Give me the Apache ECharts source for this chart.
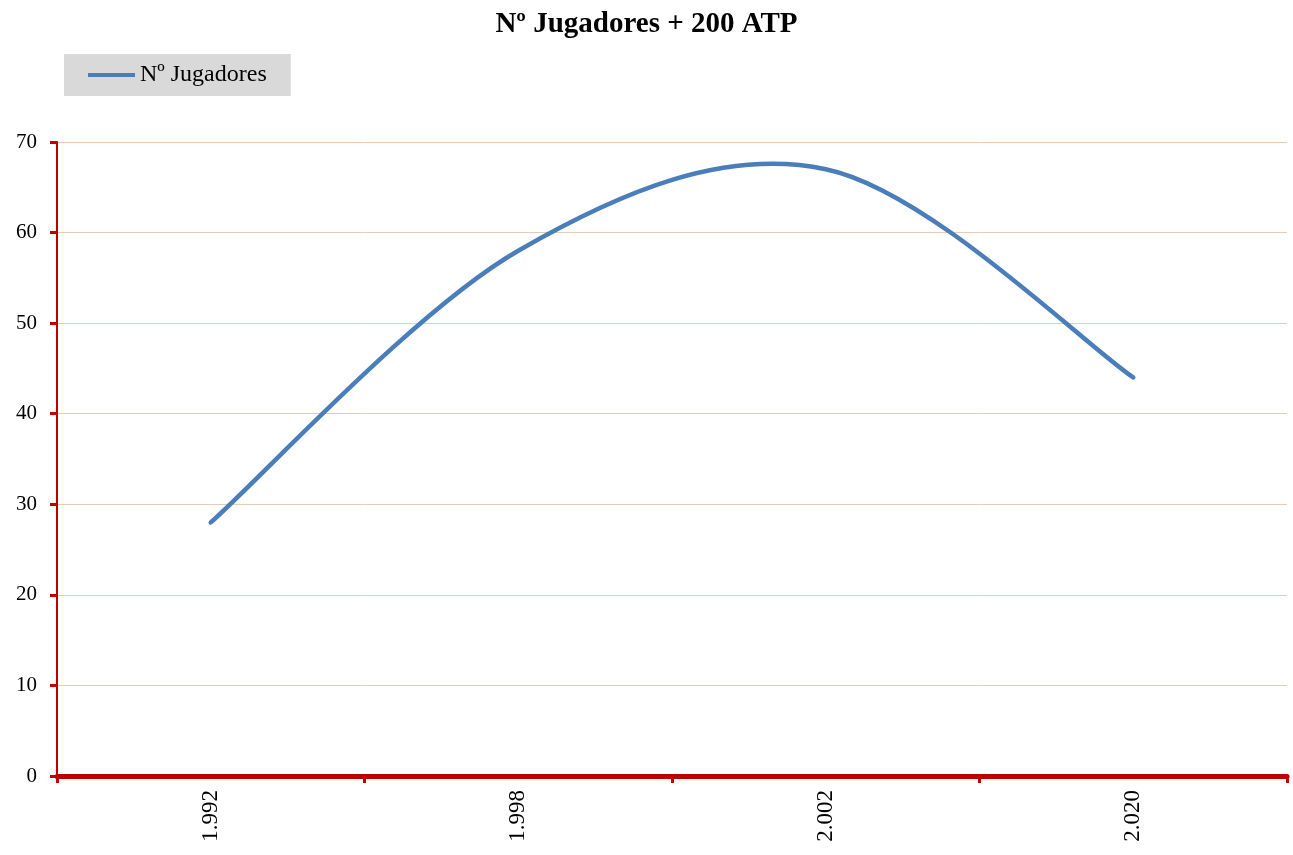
<!DOCTYPE html>
<html>
<head>
<meta charset="utf-8">
<script src="https://cdn.jsdelivr.net/npm/echarts@6/dist/echarts.min.js"></script>
<style>html,body{margin:0;padding:0;background:#fff}#c{width:1293px;height:855px}</style>
</head>
<body>
<div id="c"></div>
<script>
const titleText = 'Nº Jugadores + 200 ATP';
const seriesName = 'Nº Jugadores';
const categories = ['1.992', '1.998', '2.002', '2.020'];
const values = [28, 58, 67, 44];
const yMin = 0, yMax = 70, yInterval = 10;

const LINE_COLOR = '#4A7EBB';
const FONT = '"Liberation Serif", "DejaVu Serif", serif';

// Smooth curve (Catmull-Rom style, like spreadsheet smoothing) through the
// data points, positioned via the chart's own axes (api.coord).
function renderCurve(params, api) {
  if (params.dataIndex !== 0) return null;
  const pts = values.map((v, i) => api.coord([i, v]));
  const n = pts.length;
  let d = 'M' + pts[0][0] + ' ' + pts[0][1];
  for (let i = 0; i < n - 1; i++) {
    const p0 = pts[Math.max(i - 1, 0)];
    const p1 = pts[i];
    const p2 = pts[i + 1];
    const p3 = pts[Math.min(i + 2, n - 1)];
    const c1x = p1[0] + (p2[0] - p0[0]) / 6;
    const c1y = p1[1] + (p2[1] - p0[1]) / 6;
    const c2x = p2[0] - (p3[0] - p1[0]) / 6;
    const c2y = p2[1] - (p3[1] - p1[1]) / 6;
    d += ' C' + c1x + ' ' + c1y + ' ' + c2x + ' ' + c2y + ' ' + p2[0] + ' ' + p2[1];
  }
  return {
    type: 'path',
    shape: { pathData: d },
    style: { fill: null, stroke: LINE_COLOR, lineWidth: 4.5, lineCap: 'round', lineJoin: 'round' }
  };
}

const chart = echarts.init(document.getElementById('c'));
chart.setOption({
  animation: false,
  backgroundColor: '#ffffff',
  title: {
    text: titleText, left: 'center', top: 5,
    textStyle: { fontFamily: FONT, fontSize: 29, fontWeight: 'bold', color: '#000' }
  },
  legend: {
    left: 64, top: 54,
    backgroundColor: '#D9D9D9',
    padding: [9, 24, 9, 24],
    icon: 'rect', itemWidth: 47, itemHeight: 4, itemGap: 5,
    textStyle: { fontFamily: FONT, fontSize: 24, color: '#000' },
    data: [{ name: seriesName, itemStyle: { color: LINE_COLOR } }]
  },
  grid: { left: 57, right: 6, top: 142, bottom: 79, containLabel: false },
  xAxis: {
    type: 'category', data: categories, boundaryGap: true,
    axisLine: { lineStyle: { color: '#C00000', width: 5 } },
    axisTick: { show: true, length: 7, lineStyle: { color: '#C00000', width: 3 } },
    axisLabel: { rotate: 90, margin: 14, fontFamily: FONT, fontSize: 23, color: '#000' }
  },
  yAxis: {
    type: 'value', min: yMin, max: yMax, interval: yInterval,
    axisLine: { show: true, lineStyle: { color: '#C00000', width: 2 } },
    axisTick: { show: true, length: 7, lineStyle: { color: '#C00000', width: 3 } },
    axisLabel: { margin: 20, fontFamily: FONT, fontSize: 21, color: '#000' },
    splitLine: { lineStyle: { color: '#E8CBB3', width: 1 } }
  },
  series: [{
    name: seriesName, type: 'custom', data: values.map((v, i) => [i, v]),
    renderItem: renderCurve, z: 3, clip: false,
    itemStyle: { color: LINE_COLOR },
    encode: { x: 0, y: 1 }
  }]
});
</script>
</body>
</html>
